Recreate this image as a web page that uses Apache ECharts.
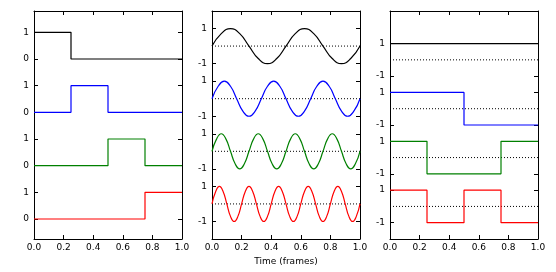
<!DOCTYPE html>
<html>
<head>
<meta charset="utf-8">
<script src="https://cdn.jsdelivr.net/npm/echarts@6/dist/echarts.min.js"></script>
<style>
html,body{margin:0;padding:0;background:#fff;}
#c{width:556px;height:272px;}
</style>
</head>
<body>
<div id="c"></div>
<script>
// ---- data ----
var stepTimes = [0, 0.25, 0.5, 0.75, 1.0];
// panel 1: one-hot steps (value held from each time to the next)
var boxBlack = [1, 0, 0, 0, 0];
var boxBlue  = [0, 1, 0, 0, 0];
var boxGreen = [0, 0, 1, 0, 0];
var boxRed   = [0, 0, 0, 1, 1];
// panel 2: sinusoids sampled every eighth of a period
var sinBlack = [0,.71,1,.71,0,-.71,-1,-.71,0,.71,1,.71,0,-.71,-1,-.71,0];
var sinBlue  = [0,.71,1,.71,0,-.71,-1,-.71,0,.71,1,.71,0,-.71,-1,-.71,0,.71,1,.71,0,-.71,-1,-.71,0];
var sinGreen = [0,.71,1,.71,0,-.71,-1,-.71,0,.71,1,.71,0,-.71,-1,-.71,0,.71,1,.71,0,-.71,-1,-.71,0,.71,1,.71,0,-.71,-1,-.71,0];
var sinRed   = [0,.71,1,.71,0,-.71,-1,-.71,0,.71,1,.71,0,-.71,-1,-.71,0,.71,1,.71,0,-.71,-1,-.71,0,.71,1,.71,0,-.71,-1,-.71,0,.71,1,.71,0,-.71,-1,-.71,0];
// panel 3: Walsh-like square waves
var sqBlack = [1, 1, 1, 1, 1];
var sqBlue  = [1, 1, -1, -1, -1];
var sqGreen = [1, -1, -1, 1, 1];
var sqRed   = [1, -1, 1, -1, -1];

var offsets1 = [6, 4, 2, 0];
var offsets23 = [9, 6, 3, 0];
var colors = ['#000000', '#0000ff', '#008000', '#ff0000'];

var xTicks = [0, 0.2, 0.4, 0.6, 0.8, 1.0];
var yTicks1 = [0, 1, 2, 3, 4, 5, 6, 7];
var yTicks23 = [-1, 1, 2, 4, 5, 7, 8, 10];

// ---- build ----
var chart = echarts.init(document.getElementById('c'), null, {renderer: 'canvas'});
var font = {fontFamily: 'DejaVu Sans', fontSize: 9, color: '#000'};
var lefts = [34, 212, 390];
var grids = lefts.map(function (l) { return {left: l, top: 11, width: 148, height: 228}; });
var yRanges = [[-0.75, 7.8], [-2, 11], [-2, 12]];

var xAxes = [], yAxes = [];
for (var g = 0; g < 3; g++) {
  var axLine = {show: true, onZero: false, lineStyle: {color: '#000', width: 1}};
  xAxes.push({
    type: 'value', gridIndex: g, min: 0, max: 1, interval: 0.2, position: 'bottom',
    axisLine: axLine, splitLine: {show: false},
    axisTick: {show: true, inside: true, length: 4, lineStyle: {color: '#000'}},
    axisLabel: Object.assign({margin: 4, formatter: function (v) { return v.toFixed(1); }}, font),
    name: g === 1 ? 'Time (frames)' : '', nameLocation: 'middle', nameGap: 15,
    nameTextStyle: font
  });
  xAxes.push({
    type: 'value', gridIndex: g, min: 0, max: 1, interval: 0.2, position: 'top',
    axisLine: axLine, splitLine: {show: false},
    axisTick: {show: true, inside: true, length: 4, lineStyle: {color: '#000'}},
    axisLabel: {show: false}
  });
  var yt = g === 0 ? yTicks1 : yTicks23;
  var fmt = g === 0
    ? function (v) { return String(((v % 2) + 2) % 2); }
    : function (v) { var r = ((v % 3) + 3) % 3; return r === 1 ? '1' : '-1'; };
  yAxes.push({
    type: 'value', gridIndex: g, min: yRanges[g][0], max: yRanges[g][1], position: 'left',
    axisLine: axLine, splitLine: {show: false},
    axisTick: {show: true, inside: true, length: 4, customValues: yt, lineStyle: {color: '#000'}},
    axisLabel: Object.assign({margin: 5, customValues: yt, formatter: fmt}, font)
  });
  yAxes.push({
    type: 'value', gridIndex: g, min: yRanges[g][0], max: yRanges[g][1], position: 'right',
    axisLine: axLine, splitLine: {show: false},
    axisTick: {show: true, inside: true, length: 4, customValues: yt, lineStyle: {color: '#000'}},
    axisLabel: {show: false, customValues: yt}
  });
}

var series = [];
function addStep(g, vals, off, color) {
  series.push({
    type: 'line', xAxisIndex: g * 2, yAxisIndex: g * 2, step: 'end', symbol: 'none',
    lineStyle: {color: color, width: 1.2}, silent: true, animation: false,
    data: stepTimes.map(function (t, i) { return [t, vals[i] + off]; })
  });
}
function addSine(g, vals, off, color) {
  series.push({
    type: 'line', xAxisIndex: g * 2, yAxisIndex: g * 2, smooth: 0.5, symbol: 'none',
    lineStyle: {color: color, width: 1.2}, silent: true, animation: false,
    data: vals.map(function (v, i) { return [i / (vals.length - 1), v + off]; })
  });
}
function addBase(g, off) {
  series.push({
    type: 'line', xAxisIndex: g * 2, yAxisIndex: g * 2, symbol: 'none',
    lineStyle: {color: '#000', width: 1, type: [1, 2]}, silent: true, animation: false,
    data: [[0, off], [1, off]]
  });
}

[boxBlack, boxBlue, boxGreen, boxRed].forEach(function (v, i) { addStep(0, v, offsets1[i], colors[i]); });
[sinBlack, sinBlue, sinGreen, sinRed].forEach(function (v, i) { addBase(1, offsets23[i]); addSine(1, v, offsets23[i], colors[i]); });
[sqBlack, sqBlue, sqGreen, sqRed].forEach(function (v, i) { addBase(2, offsets23[i]); addStep(2, v, offsets23[i], colors[i]); });

chart.setOption({
  animation: false,
  backgroundColor: '#fff',
  grid: grids,
  xAxis: xAxes,
  yAxis: yAxes,
  series: series
});
</script>
</body>
</html>
